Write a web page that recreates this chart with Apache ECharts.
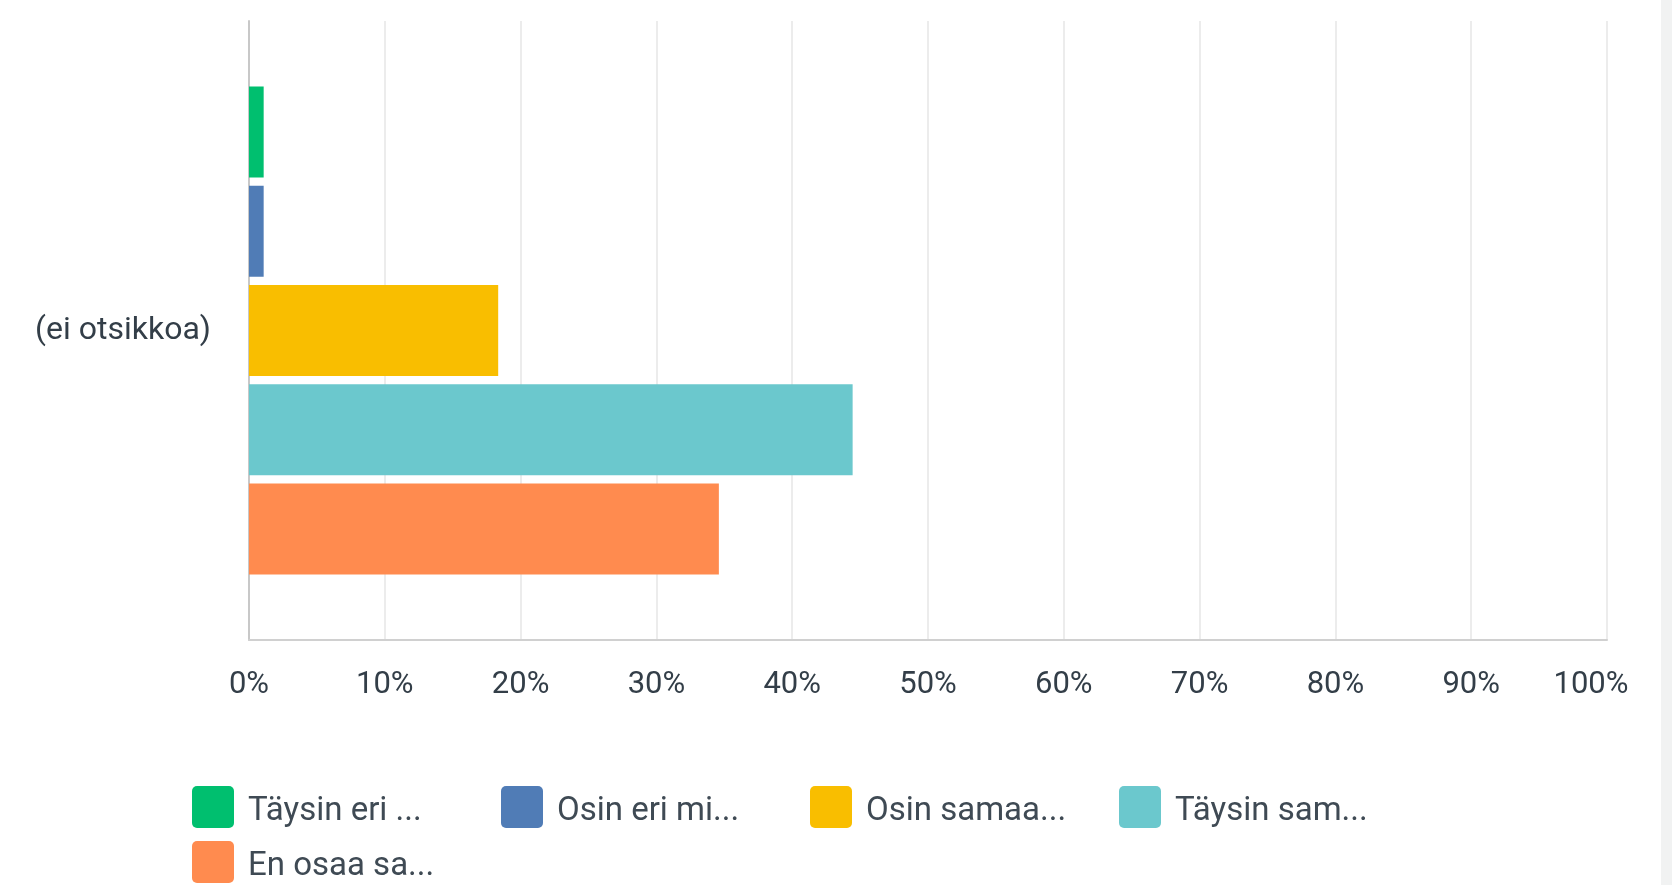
<!DOCTYPE html>
<html>
<head>
<meta charset="utf-8">
<style>
  html, body { margin: 0; padding: 0; background: #ffffff; }
  #chart { width: 1672px; height: 885px; }
</style>
<script src="https://cdn.jsdelivr.net/npm/echarts@6/dist/echarts.min.js"></script>
</head>
<body>
<div id="chart"></div>
<script>
// ---- data ----
const categories = ['(ei otsikkoa)'];
const seriesNames = ['Täysin eri ...', 'Osin eri mi...', 'Osin samaa...', 'Täysin sam...', 'En osaa sa...'];
const seriesColors = ['#00bf6f', '#507cb6', '#f9be00', '#6bc8cd', '#ff8b4f'];
const valTaysinEri = [1.08];
const valOsinEri = [1.08];
const valOsinSamaa = [18.35];
const valTaysinSamaa = [44.45];
const valEnOsaa = [34.6];
const seriesValues = [valTaysinEri, valOsinEri, valOsinSamaa, valTaysinSamaa, valEnOsaa];
const tickLabels = ['0%', '10%', '20%', '30%', '40%', '50%', '60%', '70%', '80%', '90%', '100%'];

const FONT = 'Roboto, "Noto Sans", sans-serif';
const TEXT = '#333e48';

const chart = echarts.init(document.getElementById('chart'), null, { renderer: 'canvas' });

const legendIcon = 'path://M5,0 H37 A5,5 0 0 1 42,5 V37 A5,5 0 0 1 37,42 H5 A5,5 0 0 1 0,37 V5 A5,5 0 0 1 5,0 Z';

chart.setOption({
  animation: false,
  backgroundColor: '#ffffff',
  grid: { left: 249, right: 65, top: 21, bottom: 245, containLabel: false },
  xAxis: {
    type: 'value',
    min: 0, max: 100, interval: 10,
    axisLine: { show: true, lineStyle: { color: '#d0d0d0', width: 2 } },
    axisTick: { show: false },
    splitLine: { show: true, lineStyle: { color: '#ececec', width: 2 } },
    axisLabel: {
      margin: 30,
      fontFamily: FONT, fontSize: 31, color: TEXT,
      formatter: function (v) {
        const lbl = tickLabels[Math.round(v / 10)];
        return v === 100 ? '{last|' + lbl + '}' : lbl;
      },
      rich: { last: { padding: [0, 32, 0, 0], fontFamily: FONT, fontSize: 31, color: TEXT } }
    }
  },
  yAxis: {
    type: 'category',
    data: categories,
    inverse: true,
    axisLine: { show: true, lineStyle: { color: '#c8c8c8', width: 2 } },
    axisTick: { show: false },
    axisLabel: { margin: 38, fontFamily: FONT, fontSize: 32, color: TEXT, padding: [4, 0, 0, 0] }
  },
  legend: {
    orient: 'horizontal',
    left: 192, top: 786, width: 1250,
    padding: 0,
    itemWidth: 42, itemHeight: 42, itemGap: 13,
    icon: legendIcon,
    data: seriesNames,
    formatter: function (name) { return '{t|' + name + '}'; },
    textStyle: {
      fontFamily: FONT, fontSize: 33, color: '#3f4a54',
      rich: {
        t: { fontFamily: FONT, fontSize: 33, color: '#3f4a54', lineHeight: 42, width: 240, padding: [9, 0, 0, 9] }
      }
    }
  },
  series: seriesNames.map((name, i) => ({
    name: name,
    type: 'bar',
    data: seriesValues[i],
    barWidth: 91,
    barGap: '9%',
    itemStyle: { color: seriesColors[i] }
  })),
  graphic: [{
    type: 'rect', right: 0, top: 0, silent: true,
    shape: { width: 11, height: 885 },
    style: { fill: '#f1f2f2' }
  }]
});
</script>
</body>
</html>
